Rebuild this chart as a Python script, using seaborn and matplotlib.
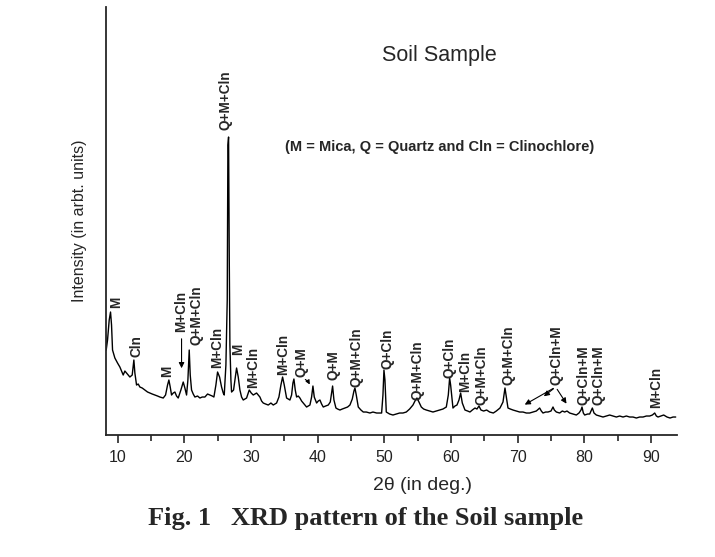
import pandas as pd
import matplotlib
matplotlib.use('Agg')
import matplotlib.pyplot as plt
import seaborn as sns

# XRD pattern (intensity in arbitrary units)
two_theta = [8.2, 8.3, 8.5, 8.75, 8.95, 9.1, 9.25, 9.6, 10.0, 10.35, 10.6, 10.85, 11.1, 11.35, 11.6, 11.85,
             12.2, 12.45, 12.6, 12.85, 13.1, 13.35, 13.7, 14.1, 14.5, 14.85, 15.2, 15.6, 16.0, 16.35, 16.85,
             17.2, 17.5, 17.7, 17.9, 18.1, 18.35, 18.6, 18.85, 19.1, 19.5, 19.85, 20.1, 20.35, 20.55, 20.75,
             20.9, 21.1, 21.35, 21.6, 22.0, 22.35, 22.7, 23.1, 23.5, 23.85, 24.2, 24.45, 24.75, 25.0, 25.3,
             25.6, 25.85, 26.0, 26.25, 26.45, 26.55, 26.65, 26.75, 26.85, 27.0, 27.1, 27.4, 27.6, 27.85, 28.1,
             28.35, 28.6, 28.85, 29.1, 29.35, 29.75, 30.05, 30.35, 30.6, 30.85, 31.1, 31.35, 31.6, 31.85,
             32.2, 32.6, 33.0, 33.35, 33.6, 33.85, 34.2, 34.5, 34.75, 35.0, 35.35, 35.6, 35.85, 36.1, 36.3,
             36.45, 36.65, 36.85, 37.1, 37.35, 37.6, 37.85, 38.1, 38.35, 38.6, 38.85, 39.1, 39.3, 39.5, 39.85,
             40.1, 40.35, 40.6, 40.85, 41.2, 41.6, 41.9, 42.1, 42.25, 42.45, 42.75, 43.0, 43.35, 43.7, 44.1,
             44.5, 44.85, 45.2, 45.45, 45.6, 45.8, 46.1, 46.5, 46.85, 47.3, 47.85, 48.3, 48.85, 49.3, 49.6,
             49.8, 49.95, 50.1, 50.3, 50.8, 51.3, 51.8, 52.3, 52.8, 53.3, 53.8, 54.3, 54.6, 54.9, 55.2, 55.55,
             55.9, 56.3, 56.8, 57.3, 57.8, 58.3, 58.8, 59.3, 59.6, 59.8, 59.95, 60.3, 60.6, 60.9, 61.2, 61.45,
             61.7, 62.1, 62.5, 62.85, 63.2, 63.6, 63.9, 64.2, 64.5, 64.9, 65.35, 65.8, 66.35, 66.8, 67.35,
             67.8, 68.1, 68.3, 68.55, 68.9, 69.3, 69.8, 70.3, 70.8, 71.3, 71.8, 72.3, 72.8, 73.3, 73.55, 73.8,
             74.2, 74.55, 75.0, 75.3, 75.5, 75.8, 76.3, 76.7, 77.05, 77.4, 77.8, 78.3, 78.8, 79.2, 79.5, 79.65,
             79.85, 80.05, 80.5, 80.8, 81.0, 81.2, 81.45, 81.8, 82.3, 82.8, 83.3, 83.8, 84.3, 84.8, 85.3, 85.8,
             86.3, 86.8, 87.3, 87.8, 88.3, 88.8, 89.3, 89.8, 90.2, 90.55, 90.8, 91.05, 91.5, 91.9, 92.4, 92.85,
             93.3, 93.7]
intensity = [100, 85, 95, 115, 123, 110, 85, 77, 72, 68, 64, 60, 64, 62, 60, 58,
             60, 75, 62, 50, 51, 48, 47, 45, 43, 42, 41, 40, 39, 38, 37,
             40, 50, 55, 48, 40, 42, 43, 39, 37, 45, 53, 47, 40, 55, 85,
             60, 45, 41, 38, 39, 37, 38, 38, 41, 40, 39, 38, 50, 63, 58,
             48, 42, 40, 70, 135, 290, 298, 180, 90, 55, 43, 45, 55, 67, 58,
             45, 38, 35, 36, 37, 45, 42, 40, 41, 42, 40, 38, 34, 32,
             31, 30, 32, 30, 31, 32, 38, 50, 58, 50, 37, 36, 35, 40, 52,
             56, 45, 38, 39, 37, 34, 32, 30, 28, 29, 30, 38, 49, 38, 32,
             34, 35, 31, 28, 29, 30, 33, 42, 49, 35, 27, 26, 25, 26, 27,
             28, 30, 36, 44, 47, 40, 28, 25, 23, 23, 22, 23, 22, 22, 22,
             40, 65, 55, 23, 21, 20, 21, 22, 22, 23, 26, 30, 34, 37, 33, 28,
             26, 25, 24, 23, 24, 25, 26, 28, 40, 57, 50, 27, 29, 30, 35, 42,
             32, 25, 24, 23, 25, 27, 26, 29, 25, 24, 25, 23, 22, 24, 27,
             33, 47, 38, 27, 26, 25, 24, 23, 23, 22, 22, 23, 24, 27, 24, 22,
             23, 23, 24, 28, 25, 23, 22, 24, 23, 24, 22, 21, 20, 22, 25, 28,
             22, 20, 21, 21, 24, 27, 22, 20, 19, 18, 19, 20, 19, 18, 19, 18,
             19, 18, 18, 17, 18, 18, 19, 19, 20, 22, 19, 18, 19, 20, 18, 17,
             18, 18]

# peak labels: text, 2theta position, intensity at the bottom of the label
peak_labels = ['M', 'Cln', 'M', 'M+Cln', 'Q+M+Cln', 'M+Cln', 'Q+M+Cln', 'M', 'M+Cln', 'M+Cln',
               'Q+M', 'Q+M', 'Q+M+Cln', 'Q+Cln', 'Q+M+Cln', 'Q+Cln', 'M+Cln', 'Q+M+Cln',
               'Q+M+Cln', 'Q+Cln+M', 'Q+Cln+M', 'Q+Cln+M', 'M+Cln']
label_pos = [9.85, 12.85, 17.45, 19.6, 21.85, 25.0, 26.25, 28.1, 30.35, 34.85,
             37.6, 42.35, 45.85, 50.45, 55.05, 59.8, 62.1, 64.6,
             68.6, 75.8, 79.8, 82.05, 90.8]
label_base = [127, 78, 58, 103, 90, 67, 305, 80, 47, 60,
              58, 55, 48, 66, 35, 57, 43, 30,
              50, 50, 30, 30, 27]

df = pd.DataFrame({'two_theta': two_theta, 'intensity': intensity})

sns.set_style('ticks')
plt.rcParams['font.family'] = ['Liberation Sans', 'DejaVu Sans']

fig = plt.figure(figsize=(7.15, 5.57), dpi=100)
ax = fig.add_axes([0.1476, 0.219, 0.7993, 0.7684])
sns.lineplot(data=df, x='two_theta', y='intensity', sort=False, estimator=None,
             color='black', linewidth=1.0, ax=ax)

ax.set_xlim(8.2, 93.9)
ax.set_ylim(0, 428)
ax.set_xticks(range(10, 91, 10))
ax.set_xticks(range(15, 94, 10), minor=True)
ax.set_yticks([])
ax.tick_params(axis='x', which='major', length=6, width=1.2, direction='out',
               labelsize=11.5, labelcolor='#222222', pad=5)
ax.tick_params(axis='x', which='minor', length=4, width=1.2, direction='out')
sns.despine(ax=ax)
for s in ['left', 'bottom']:
    ax.spines[s].set_linewidth(1.3)
ax.set_xlabel('')
ax.set_ylabel('Intensity (in arbt. units)', fontsize=11.5, labelpad=13)

for txt, x, y in zip(peak_labels, label_pos, label_base):
    ax.text(x, y, txt, rotation=90, ha='center', va='bottom',
            fontsize=9.8, fontweight='bold')

arrow = dict(arrowstyle='-|>', color='black', lw=0.8, mutation_scale=8)
ax.annotate('', xy=(19.6, 64), xytext=(19.6, 99), arrowprops=arrow)
ax.annotate('', xy=(39.0, 48), xytext=(37.8, 57),
            arrowprops=dict(arrowstyle='-|>', color='black', lw=0.8,
                            mutation_scale=6, connectionstyle='arc3,rad=-0.2'))
for tx, ty in [(70.7, 29), (73.6, 37), (77.55, 29)]:
    ax.annotate('', xy=(tx, ty), xytext=(75.7, 48), arrowprops=arrow)

fig.text(0.615, 0.901, 'Soil Sample', ha='center', va='center', fontsize=15.5)
fig.text(0.615, 0.736, '(M = Mica, Q = Quartz and Cln = Clinochlore)', ha='center',
         va='center', fontsize=10.5, fontweight='bold')
fig.text(0.591, 0.1275, '2θ (in deg.)', ha='center', va='center', fontsize=14)
fig.text(0.511, 0.069, 'Fig. 1   XRD pattern of the Soil sample', ha='center', va='center',
         fontsize=19, fontweight='bold', family=['Liberation Serif', 'DejaVu Serif'])

fig.savefig('out.png', dpi=100)
plt.close(fig)
